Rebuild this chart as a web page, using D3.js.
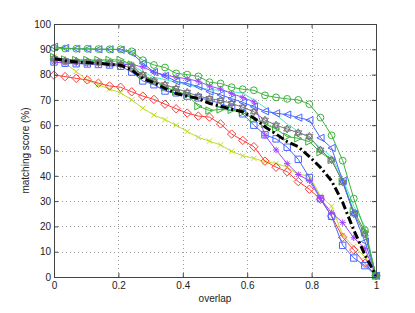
<!DOCTYPE html>
<meta charset="utf-8">
<style>
body { margin: 0; background: #fff; }
svg text { font: 10px "Liberation Sans", Arial, sans-serif; fill: #222; }
.grid line { stroke: #9a9a9a; stroke-width: 1; stroke-dasharray: 1,3; }
.axis path, .axis line { stroke: #444; }
.series path.line { fill: none; }
.series path.mark { fill: none; }
</style>
<body>
<script src="https://d3js.org/d3.v7.min.js"></script>
<script>

// overlap, 30 samples 0..1
var overlap = d3.range(30).map(function(i) { return i / 29; });

var xTicks = [0, 0.2, 0.4, 0.6, 0.8, 1];
var xTickLabels = ["0", "0.2", "0.4", "0.6", "0.8", "1"];
var yTicks = [0, 10, 20, 30, 40, 50, 60, 70, 80, 90, 100];

// matching score (%) per method
var greenCircle = [90.5, 90.3, 90.2, 90.2, 90.1, 90, 90, 89.2, 85.7, 83.8, 82.8, 80.5, 80, 79.3, 77, 76.5, 75, 74.2, 73.8, 71.8, 71, 70.4, 70, 68.3, 63, 56, 46, 31, 18.5, 0.5];
var blueTriangle = [91, 90.5, 90.2, 90.1, 90, 90, 89.8, 88.5, 84.5, 81, 79.5, 77.3, 76.5, 75.3, 73.3, 72, 70.5, 69, 67.3, 65.5, 64.7, 64.2, 63, 62, 55, 51, 38, 25, 14, 0.5];
var redDiamond = [79.8, 79.2, 78.5, 77.9, 76.6, 75.5, 75, 73.2, 71.5, 70.2, 68.3, 66.5, 64.8, 63.6, 63.2, 60.5, 56.5, 54, 51.5, 45.8, 43.4, 41.6, 37.7, 34.7, 30.7, 24.1, 15.7, 10.7, 5.4, 0.5];
var yellowCross = [87, 84.5, 81.2, 77.8, 76, 74.3, 72.8, 70, 66.7, 64, 62.2, 60, 57.5, 55.2, 53.7, 52.2, 49.7, 47.9, 46.9, 45.6, 44.9, 43.4, 40.5, 40, 32, 28, 16.5, 12, 8, 0.5];
var purpleStar = [85, 84.7, 84.5, 84.3, 84.2, 84, 84, 84, 83, 81, 79.8, 79, 78.3, 77.4, 75.5, 74.3, 72.5, 71, 69.2, 56, 50.2, 44.8, 40.5, 38, 31, 25.4, 21.5, 15.5, 11.3, 0.5];
var blueSquare = [85, 84.5, 84.3, 84.2, 84, 83.8, 83.3, 81, 77.5, 76, 73.5, 72.8, 71.5, 70.8, 70, 68.5, 67, 64.5, 60, 56.2, 54.6, 51.3, 46.5, 39.3, 31, 24, 12.5, 7.5, 4.5, 0.5];
var greenTriangle = [87, 86, 85.8, 85.8, 85.8, 85.8, 85.8, 84, 79.5, 77.5, 75, 73.5, 72, 67.5, 65.8, 66.2, 66, 65, 62.5, 60.5, 58.5, 55.5, 54.8, 53.5, 49.3, 46.2, 37.7, 26, 18, 0.5];
var grayHexagram = [86.3, 85.5, 85.2, 85, 84.8, 84.5, 84, 82.5, 80, 77.5, 76, 74.5, 73, 71.5, 70.5, 69.8, 68.6, 67.1, 65.3, 62, 60, 58.5, 57, 55.6, 50.2, 46.3, 37.5, 25, 17, 0.5];
var cyanLine = [86.5, 86, 85.8, 85.6, 85.5, 85.3, 85, 84, 81, 79, 78, 77, 76, 75, 74, 73.8, 73.2, 72.7, 70, 67, 64, 60.5, 57.5, 55, 51, 47.5, 39, 28, 20, 0.5];
var meanScore = [86.3, 85.5, 85, 84.8, 84.5, 84, 83.7, 81.8, 78.5, 76.8, 74.5, 72.5, 71.5, 70.5, 68.6, 67.5, 66.3, 65.3, 62.8, 59.4, 56.5, 53.5, 51.5, 47.6, 43.3, 38, 29.5, 18.5, 8.8, 0.5];

var series = [
  {values: cyanLine, color: "#45ecc4", marker: null},
  {values: yellowCross, color: "#c2dc2a", marker: "x"},
  {values: redDiamond, color: "#ff3d3d", marker: "d"},
  {values: blueSquare, color: "#4a66ff", marker: "s"},
  {values: purpleStar, color: "#a545ff", marker: "*"},
  {values: greenTriangle, color: "#36b236", marker: ">"},
  {values: grayHexagram, color: "#777777", marker: "h"},
  {values: blueTriangle, color: "#4a66ff", marker: "<"},
  {values: greenCircle, color: "#3cb43c", marker: "o"}
];

var width = 415, height = 313;
var margin = {top: 24, right: 39, bottom: 36, left: 54};

var x = d3.scaleLinear().domain([0, 1]).range([margin.left, width - margin.right]);
var y = d3.scaleLinear().domain([0, 100]).range([height - margin.bottom, margin.top]);

var svg = d3.select("body").append("svg")
    .attr("width", width)
    .attr("height", height);

// dotted grid
var grid = svg.append("g").attr("class", "grid");
grid.selectAll(".gx")
    .data(xTicks.slice(1, -1))
  .enter().append("line")
    .attr("x1", function(d) { return Math.round(x(d)) + 0.5; })
    .attr("x2", function(d) { return Math.round(x(d)) + 0.5; })
    .attr("y1", y(100))
    .attr("y2", y(0));
grid.selectAll(".gy")
    .data(yTicks.slice(1, -1))
  .enter().append("line")
    .attr("y1", function(d) { return Math.round(y(d)) + 0.5; })
    .attr("y2", function(d) { return Math.round(y(d)) + 0.5; })
    .attr("x1", x(0))
    .attr("x2", x(1));

function markerPath(type) {
  var s;
  switch (type) {
    case "o": s = 3.4; return "M" + (-s) + ",0A" + s + "," + s + " 0 1,0 " + s + ",0A" + s + "," + s + " 0 1,0 " + (-s) + ",0Z";
    case "<": s = 3.6; return "M" + (-s) + ",0L" + s + "," + (-s) + "L" + s + "," + s + "Z";
    case ">": s = 3.6; return "M" + s + ",0L" + (-s) + "," + (-s) + "L" + (-s) + "," + s + "Z";
    case "d": s = 4.2; return "M0," + (-s) + "L" + s + ",0L0," + s + "L" + (-s) + ",0Z";
    case "s": s = 3.2; return "M" + (-s) + "," + (-s) + "H" + s + "V" + s + "H" + (-s) + "Z";
    case "x": s = 2.6; return "M" + (-s) + "," + (-s) + "L" + s + "," + s + "M" + (-s) + "," + s + "L" + s + "," + (-s);
    case "*": s = 3.2; var t = s * 0.72;
      return "M" + (-s) + ",0H" + s + "M0," + (-s) + "V" + s +
             "M" + (-t) + "," + (-t) + "L" + t + "," + t + "M" + (-t) + "," + t + "L" + t + "," + (-t);
    case "h": s = 4;
      var a = [], b = [];
      for (var k = 0; k < 3; k++) {
        var ang1 = -Math.PI / 2 + k * 2 * Math.PI / 3;
        var ang2 = Math.PI / 2 + k * 2 * Math.PI / 3;
        a.push((s * Math.cos(ang1)).toFixed(2) + "," + (s * Math.sin(ang1)).toFixed(2));
        b.push((s * Math.cos(ang2)).toFixed(2) + "," + (s * Math.sin(ang2)).toFixed(2));
      }
      return "M" + a.join("L") + "ZM" + b.join("L") + "Z";
  }
  return "";
}

var line = d3.line()
    .x(function(d, i) { return x(overlap[i]); })
    .y(function(d) { return y(d); });

var g = svg.selectAll(".series")
    .data(series)
  .enter().append("g")
    .attr("class", "series");

g.append("path")
    .attr("class", "line")
    .attr("d", function(d) { return line(d.values); })
    .style("stroke", function(d) { return d.color; })
    .style("stroke-width", 1);

g.each(function(s) {
  if (!s.marker) return;
  d3.select(this).selectAll(".mark")
      .data(s.values)
    .enter().append("path")
      .attr("class", "mark")
      .attr("transform", function(d, i) { return "translate(" + x(overlap[i]) + "," + y(d) + ")"; })
      .attr("d", markerPath(s.marker))
      .style("stroke", s.color)
      .style("stroke-width", 1);
});

// mean curve, thick dash-dot
svg.append("path")
    .attr("d", line(meanScore))
    .style("fill", "none")
    .style("stroke", "#000")
    .style("stroke-width", 3)
    .style("stroke-dasharray", "8,3,2,3");

// axes, ticks inward on all four sides
var xAxis = d3.axisBottom(x).tickValues(xTicks).tickSize(-4).tickPadding(5)
    .tickFormat(function(d, i) { return xTickLabels[i]; });
var yAxis = d3.axisLeft(y).tickValues(yTicks).tickSize(-4).tickPadding(3);

svg.append("g")
    .attr("class", "axis")
    .attr("transform", "translate(0," + y(0) + ")")
    .call(xAxis)
    .call(function(a) { a.select(".domain").attr("d", "M" + x(0) + ",0.5H" + x(1)); });

svg.append("g")
    .attr("class", "axis")
    .attr("transform", "translate(" + x(0) + ",0)")
    .call(yAxis)
    .call(function(a) { a.select(".domain").attr("d", "M0.5," + y(0) + "V" + y(100)); });

svg.append("g")
    .attr("class", "axis")
    .attr("transform", "translate(0," + y(100) + ")")
    .call(d3.axisTop(x).tickValues(xTicks).tickSize(-4).tickFormat(""))
    .call(function(a) { a.select(".domain").attr("d", "M" + x(0) + ",0.5H" + x(1)); });

svg.append("g")
    .attr("class", "axis")
    .attr("transform", "translate(" + x(1) + ",0)")
    .call(d3.axisRight(y).tickValues(yTicks).tickSize(-4).tickFormat(""))
    .call(function(a) { a.select(".domain").attr("d", "M0.5," + y(0) + "V" + y(100)); });

svg.selectAll(".axis text").style("font-size", "10px").style("fill", "#222");

// axis titles
svg.append("text")
    .attr("x", (x(0) + x(1)) / 2)
    .attr("y", 302)
    .attr("text-anchor", "middle")
    .text("overlap");

svg.append("text")
    .attr("transform", "translate(29," + ((y(0) + y(100)) / 2) + ") rotate(-90)")
    .attr("text-anchor", "middle")
    .text("matching score (%)");

</script>
</body>
